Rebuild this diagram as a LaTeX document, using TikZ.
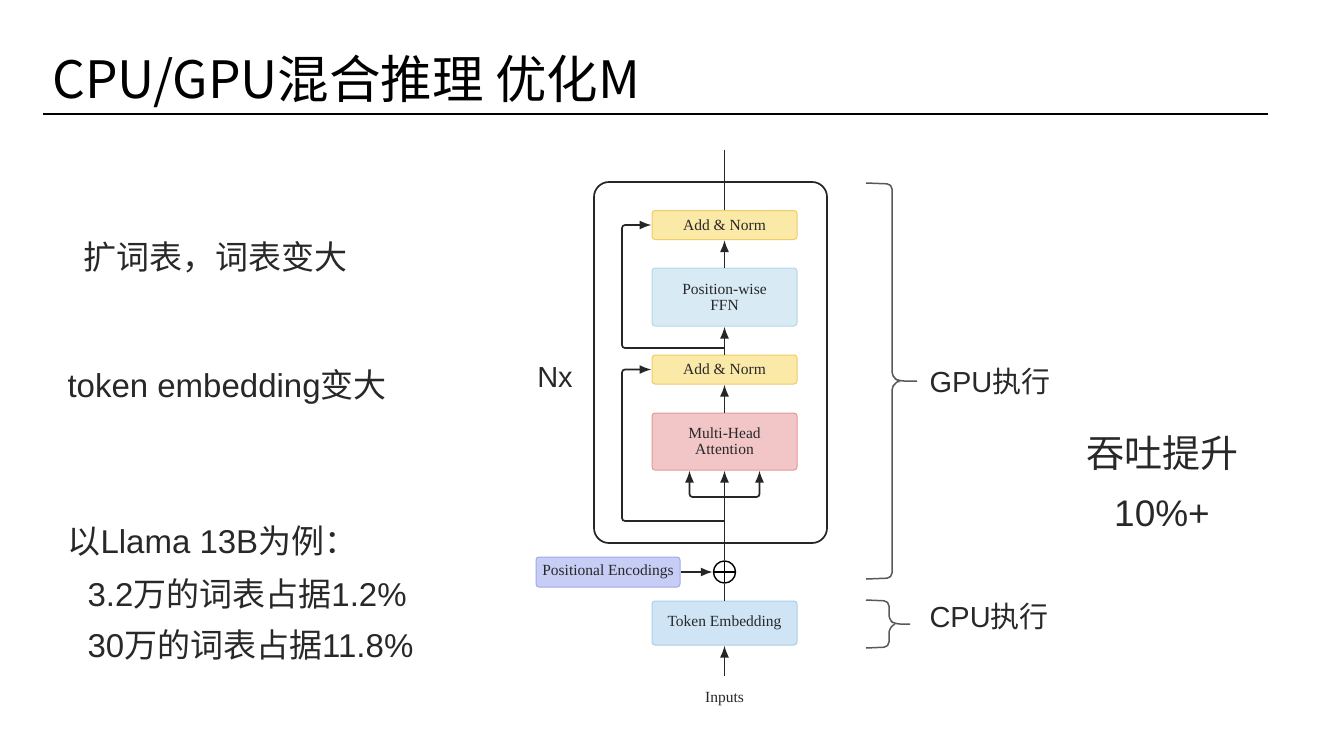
\documentclass[tikz,border=0pt]{standalone}
\usepackage{fontspec}
\setmainfont{Liberation Sans}
\newfontfamily\cjk{Noto Sans CJK SC}
\newfontfamily\tnr{Liberation Serif}
\usetikzlibrary{arrows.meta}
\definecolor{normfill}{RGB}{251,233,168}
\definecolor{normdraw}{RGB}{240,204,100}
\definecolor{ffnfill}{RGB}{216,234,244}
\definecolor{ffndraw}{RGB}{182,214,234}
\definecolor{attfill}{RGB}{242,198,199}
\definecolor{attdraw}{RGB}{228,152,154}
\definecolor{posfill}{RGB}{199,205,245}
\definecolor{posdraw}{RGB}{160,170,236}
\definecolor{tokfill}{RGB}{207,229,245}
\definecolor{tokdraw}{RGB}{172,206,232}
\definecolor{txt}{RGB}{40,40,40}

\begin{document}
\begin{tikzpicture}[x=1pt,y=-1pt,
    layer/.style={rounded corners=3pt, line width=1pt, minimum width=145pt, inner sep=1pt,
        align=center, text=txt, font=\tnr\fontsize{15.5}{16}\selectfont},
    norm/.style={layer, fill=normfill, draw=normdraw, minimum height=29pt},
    ffn/.style={layer, fill=ffnfill, draw=ffndraw, minimum height=58pt},
    att/.style={layer, fill=attfill, draw=attdraw, minimum height=57pt},
    tok/.style={layer, fill=tokfill, draw=tokdraw, minimum height=44pt},
    posenc/.style={layer, fill=posfill, draw=posdraw, minimum height=30pt, minimum width=144pt},
    line/.style={line width=1.7pt, draw=black!85},
    arr/.style={line, -{Latex[length=12pt,width=9pt]}},
    brace/.style={line width=1.5pt, draw=black!65, rounded corners=5pt},
    big/.style={text=txt, font=\fontsize{33}{38}\selectfont},
    side/.style={text=txt, font=\fontsize{29}{34}\selectfont}]
    \useasboundingbox[fill=white] (0,0) rectangle (1334,750);
    % title
    \node[anchor=base west, inner sep=0pt, font=\cjk\fontsize{51.5}{58}\selectfont] (title) at (52,98) {CPU/GPU混合推理 优化M};
    \draw[line width=2pt] (43,114) -- (1268,114);
    % left notes
    \node[big, anchor=west] (n1) at (80,257) {\cjk 扩词表，词表变大};
    \node[big, anchor=west] (n2) at (64,387) {token embedding{\cjk 变大}};
    \node[big, anchor=west] (n3) at (64,541) {{\cjk 以}Llama 13B{\cjk 为例：}};
    \node[big, anchor=west] (n4) at (84,594) {3.2{\cjk 万的词表占据}1.2\%};
    \node[big, anchor=west] (n5) at (84,645) {30{\cjk 万的词表占据}11.8\%};
    % encoder stack
    \draw[line, rounded corners=15pt] (594,182) rectangle (827,543);
    \node[side] (nx) at (555,378) {Nx};
    \node[norm] (an2) at (724.5,225) {Add \& Norm};
    \node[ffn] (ffn) at (724.5,297) {Position-wise\\FFN};
    \node[norm] (an1) at (724.5,369.5) {Add \& Norm};
    \node[att] (mha) at (724.5,441.5) {Multi-Head\\Attention};
    \node[draw, circle, minimum size=22pt, inner sep=0pt, line width=1.4pt,
        path picture={\draw[line width=1.4pt] (path picture bounding box.north) -- (path picture bounding box.south)
            (path picture bounding box.west) -- (path picture bounding box.east);}] (add) at (724.5,572) {};
    \node[posenc] (pe) at (608,572) {Positional Encodings};
    \node[tok] (tok) at (724.5,623) {Token Embedding};
    \node[text=txt, font=\tnr\fontsize{15.5}{16}\selectfont] (inputs) at (724.5,699) {Inputs};
    \coordinate (out) at (724.5,150);
    \coordinate (r2) at (724.5,348);
    \coordinate (r1) at (724.5,521);
    \coordinate (split) at (724.5,497);
    % connectors
    \draw[arr] ([yshift=13pt]inputs.north) -- (tok.south);
    \draw[line] (tok.north) -- (add.south);
    \draw[arr] (pe.east) -- (add.west);
    \draw[arr] (add.north) -- (mha.south);
    \draw[arr, rounded corners=3pt] (split) -| ([xshift=-35pt]mha.south);
    \draw[arr, rounded corners=3pt] (split) -| ([xshift=35pt]mha.south);
    \draw[arr, rounded corners=3pt] (r1) -- (622,521) |- (an1.west);
    \draw[arr] (mha) -- (an1);
    \draw[arr] (an1) -- (ffn);
    \draw[arr, rounded corners=3pt] (r2) -- (622,348) |- (an2.west);
    \draw[arr] (ffn) -- (an2);
    \draw[line] (an2.north) -- (out);
    % braces
    \draw[brace] (866,183) -- (892,184) -- (892,377) -- (899,381) -- (917,381);
    \draw[brace] (866,579) -- (892,578) -- (892,385) -- (899,381);
    \draw[brace] (866,600) -- (889,601) -- (889,620) -- (895,624) -- (910,624);
    \draw[brace] (866,648) -- (889,647) -- (889,628) -- (895,624);
    \node[side, anchor=west] (gpu) at (926,382) {GPU{\cjk 执行}};
    \node[side, anchor=west] (cpu) at (926,617) {CPU{\cjk 执行}};
    \node[text=txt, font=\cjk\fontsize{38}{44}\selectfont] (gain) at (1162,453) {吞吐提升};
    \node[text=txt, font=\fontsize{37}{44}\selectfont] (pct) at (1162,514) {10\%+};
\end{tikzpicture}
\end{document}
